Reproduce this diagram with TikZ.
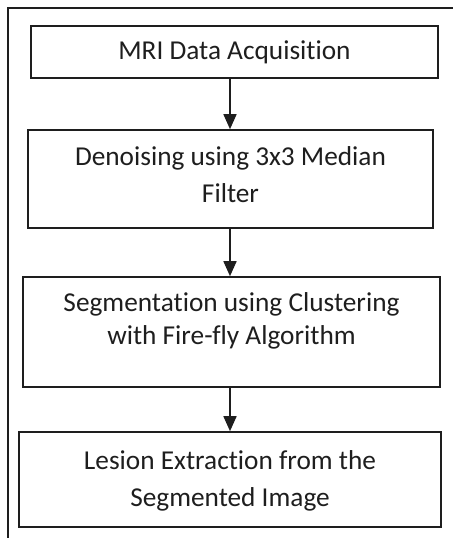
\documentclass[tikz,border=0pt]{standalone}
\usepackage{fontspec}
\setmainfont{Carlito}[Ligatures={CommonOff}]
\usetikzlibrary{arrows.meta}
\definecolor{ink}{HTML}{1E1E1E}
\begin{document}
\begin{tikzpicture}[x=1pt,y=-1pt,
  stepbox/.style={draw=ink,line width=1.6pt,inner sep=0pt},
  steptext/.style={align=center,inner sep=0pt,text=ink,
    font=\fontsize{27.3}{37}\selectfont},
  flow/.style={draw=ink,line width=1.6pt,-{Triangle[width=13pt,length=15pt]}}]
\useasboundingbox (0,0) rectangle (453,538);
\draw[ink,line width=1.6pt] (8,538) -- (8,8) -- (453,8);
\node[stepbox,minimum width=407pt,minimum height=52pt] (a) at (234.5,52) {};
\node[steptext] (ta) at (234.5,52) {MRI Data Acquisition};
\node[stepbox,minimum width=405pt,minimum height=98pt] (b) at (230.5,179) {};
\node[steptext] (tb) at (230.5,175) {Denoising using 3x3 Median\\Filter};
\node[stepbox,minimum width=417pt,minimum height=110pt] (c) at (231.5,332) {};
\node[steptext,font=\fontsize{27.3}{33}\selectfont] (tc) at (231.5,321) {Segmentation using Clustering\\with Fire-fly Algorithm};
\node[stepbox,minimum width=422pt,minimum height=95pt] (d) at (230,479.5) {};
\node[steptext] (td) at (230,481) {Lesion Extraction from the\\Segmented Image};
\draw[flow] (a.south -| 230,0) -- (b.north -| 230,0);
\draw[flow] (b.south -| 230,0) -- (c.north -| 230,0);
\draw[flow] (c.south -| 230,0) -- (d.north -| 230,0);
\end{tikzpicture}
\end{document}
